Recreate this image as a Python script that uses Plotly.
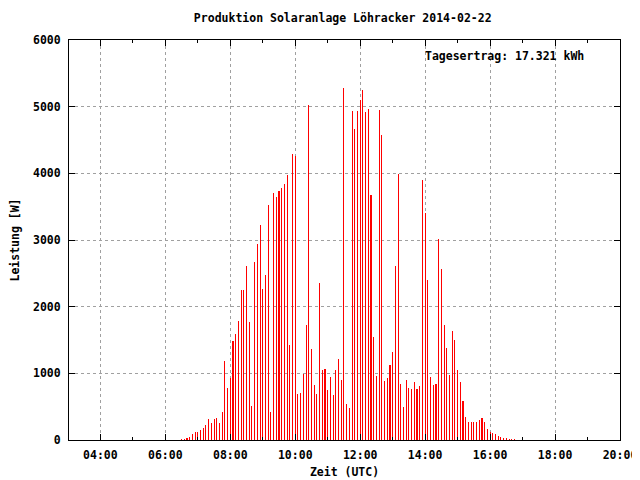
import plotly.graph_objects as go
import pandas as pd

title_text = "Produktion Solaranlage Löhracker 2014-02-22"
yield_label = "Tagesertrag: 17.321 kWh"
day = "2014-02-22"
start_time = "06:30"
step_minutes = 5

# Leistung [W], one value every 5 minutes starting 06:30 UTC
power_w = [
    15, 15, 30, 45, 90, 120, 120, 150, 180, 225,
    315, 255, 315, 330, 255, 420, 1185, 780, 930, 1485,
    1590, 1785, 2250, 2250, 2610, 1770, 510, 2670, 2940, 3225,
    2265, 2475, 3525, 420, 3705, 3645, 3735, 3780, 3840, 3975,
    1425, 4290, 4260, 690, 705, 990, 1725, 5025, 1365, 825,
    690, 2355, 1050, 1065, 750, 945, 675, 1050, 1215, 900,
    5280, 540, 480, 4935, 4665, 4935, 5100, 5250, 4920, 4965,
    3675, 1545, 960, 4950, 4575, 885, 930, 1125, 1320, 2610,
    3990, 840, 495, 900, 780, 765, 870, 765, 810, 3900,
    3405, 2400, 945, 825, 840, 3015, 2565, 1725, 1380, 975,
    1635, 1500, 1050, 870, 585, 345, 270, 270, 270, 270,
    300, 330, 270, 165, 120, 105, 90, 60, 45, 30,
    30, 15, 15, 15,
]

times = pd.date_range(f"{day} {start_time}", periods=len(power_w), freq=f"{step_minutes}min")

font_family = "DejaVu Sans Mono"
font_color = "#000000"
fs = 11.5

# the page adds an 8px body margin; margins below compensate for it
fig = go.Figure()
fig.add_trace(go.Bar(
    x=times,
    y=power_w,
    width=10 * 1000,   # very thin -> rendered as 1px impulses
    marker=dict(color="#ff0000", line=dict(width=0)),
    showlegend=False,
))

fig.update_layout(
    width=640,
    height=480,
    margin=dict(l=61, r=28, t=32, b=48, autoexpand=False),
    paper_bgcolor="white",
    plot_bgcolor="white",
    bargap=0,
    font=dict(family=font_family, size=fs, color=font_color),
    title=dict(
        text=f"<b>{title_text}</b>",
        x=0.523, xanchor="center", y=0.979, yanchor="middle",
        font=dict(family=font_family, size=fs, color=font_color),
    ),
    xaxis=dict(
        type="date",
        range=[f"{day} 03:02", f"{day} 20:00"],
        tick0=f"{day} 00:00",
        dtick=2 * 3600 * 1000,
        tickformat="%H:%M",
        ticks="inside",
        ticklen=6,
        tickcolor="black",
        ticklabelstandoff=4,
        showline=True,
        linecolor="black",
        linewidth=1,
        mirror="allticks",
        showgrid=True,
        gridcolor="#a0a0a0",
        griddash="3px,3px",
        gridwidth=1,
        zeroline=False,
        automargin=False,
        tickfont=dict(family=font_family, size=fs, color=font_color),
        title=dict(text="<b>Zeit (UTC)</b>", standoff=7,
                   font=dict(family=font_family, size=fs, color=font_color)),
        minor=dict(dtick=3600 * 1000, ticks="inside", ticklen=3, tickcolor="black", showgrid=False),
    ),
    yaxis=dict(
        range=[0, 6000],
        dtick=1000,
        ticks="inside",
        ticklen=6,
        tickcolor="black",
        ticklabelstandoff=5,
        showline=True,
        linecolor="black",
        linewidth=1,
        mirror="allticks",
        showgrid=True,
        gridcolor="#a0a0a0",
        griddash="3px,3px",
        gridwidth=1,
        zeroline=False,
        automargin=False,
        tickfont=dict(family=font_family, size=fs, color=font_color),
        title=dict(text="<b>Leistung [W]</b>", standoff=11,
                   font=dict(family=font_family, size=fs, color=font_color)),
    ),
    annotations=[dict(
        text=f"<b>{yield_label}</b>",
        xref="paper", yref="paper",
        x=0.643, y=0.96, xanchor="left", yanchor="middle",
        showarrow=False,
        font=dict(family=font_family, size=fs, color=font_color),
    )],
)

fig.update_xaxes(tickprefix="<b>", ticksuffix="</b>")
fig.update_yaxes(tickprefix="<b>", ticksuffix="</b>")

fig.write_html("out.html")
